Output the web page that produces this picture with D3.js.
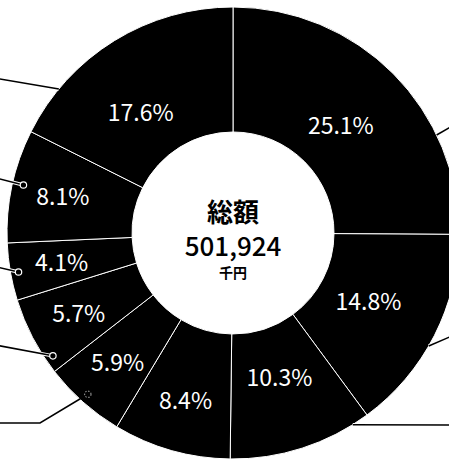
<!DOCTYPE html>
<html>
<head>
<meta charset="utf-8">
<script src="https://cdn.jsdelivr.net/npm/d3@7"></script>
<style>
  body { margin: 0; background: #fff; }
  svg { display: block; font-family: "Noto Sans CJK JP", "Noto Sans", sans-serif; }
</style>
</head>
<body>
<div class="chart"></div>
<script>
// Slice shares (%), clockwise from 12 o'clock
const shares = [25.1, 14.8, 10.3, 8.4, 5.9, 5.7, 4.1, 8.1, 17.6];
const labels = shares.map(d => d.toFixed(1) + '%');

// Centre text
const totalTitle = '総額';
const totalValue = '501,924';
const totalUnit = '千円';

// Leader lines: which slice, where they touch the ring, where they leave the picture
const leaders = [
  { slice: 0, angle: 64.3, r: 226, path: [[460, 121.6]] },
  { slice: 1, angle: 120, r: 226, path: [[460, 332.5]] },
  { slice: 2, angle: 148, r: 226, path: [[460, 425]] },
  { slice: 4, angle: 222, r: 217, path: [[40, 423], [-10, 423]], faint: true },
  { slice: 5, angle: 235.7, r: 218, path: [[-10, 344]] },
  { slice: 6, angle: 259.7, r: 218, path: [[-10, 265.6]] },
  { slice: 7, angle: 282.9, r: 215, path: [[-10, 176.4]] },
  { slice: 8, angle: 309.6, r: 226, path: [[-10, 77.2]] },
];

const width = 449;
const height = 459;
const cx = 233;
const cy = 233;
const outerR = 226;
const innerR = 101;

const svg = d3.select('.chart')
  .append('svg')
  .attr('width', width)
  .attr('height', height);

const g = svg.append('g').attr('transform', `translate(${cx},${cy})`);

const pie = d3.pie().sort(null).value(d => d);
const arcs = pie(shares);

const arc = d3.arc().innerRadius(innerR).outerRadius(outerR);

g.selectAll('path.slice')
  .data(arcs)
  .enter()
  .append('path')
  .attr('class', 'slice')
  .attr('d', arc)
  .attr('fill', '#000')
  .attr('stroke', '#fff')
  .attr('stroke-width', 1);

// point on ring at given angle (deg, clockwise from top)
const polar = (deg, r) => {
  const a = deg * Math.PI / 180;
  return [r * Math.sin(a), -r * Math.cos(a)];
};

// Leader lines
const line = d3.line();
leaders.forEach(l => {
  const start = polar(l.angle, l.r);
  const pts = [start].concat(l.path.map(([x, y]) => [x - cx, y - cy]));
  if (!l.faint) {
    g.append('path')
      .attr('d', line(pts))
      .attr('fill', 'none')
      .attr('stroke', '#fff')
      .attr('stroke-width', 3.5);
  }
  g.append('path')
    .attr('d', line(pts))
    .attr('fill', 'none')
    .attr('stroke', '#000')
    .attr('stroke-width', 1.5);
  if (l.r < outerR - 2) {
    g.append('circle')
      .attr('cx', start[0])
      .attr('cy', start[1])
      .attr('r', 3.2)
      .attr('fill', '#000')
      .attr('stroke', l.faint ? '#888' : '#fff')
      .attr('stroke-dasharray', l.faint ? '1.5,1.5' : null)
      .attr('stroke-width', 1.2);
  }
});

// Percentage labels: big slices sit nearer the hole, small ones further out
const labelArcBig = d3.arc().innerRadius(152).outerRadius(152);
const labelArcSmall = d3.arc().innerRadius(174).outerRadius(174);
const labelShift = 0.1; // the last (17.6%) label sits a little back toward its start

g.selectAll('text.pct')
  .data(arcs)
  .enter()
  .append('text')
  .attr('class', 'pct')
  .attr('transform', (d, i) => {
    const a = d.data > 10 ? labelArcBig : labelArcSmall;
    const dd = i === arcs.length - 1
      ? { ...d, startAngle: d.startAngle - labelShift, endAngle: d.endAngle - labelShift }
      : d;
    return `translate(${a.centroid(dd)})`;
  })
  .attr('text-anchor', 'middle')
  .attr('dy', '0.36em')
  .attr('fill', '#fff')
  .style('font-size', '23px')
  .text((d, i) => labels[i]);

// Centre text
g.append('text')
  .attr('text-anchor', 'middle')
  .attr('y', -11)
  .style('font-size', '26px')
  .style('font-weight', 'bold')
  .text(totalTitle);

g.append('text')
  .attr('text-anchor', 'middle')
  .attr('y', 23)
  .style('font-size', '26px')
  .style('font-weight', '500')
  .text(totalValue);

g.append('text')
  .attr('text-anchor', 'middle')
  .attr('y', 45)
  .style('font-size', '14px')
  .style('font-weight', 'bold')
  .text(totalUnit);
</script>
</body>
</html>
